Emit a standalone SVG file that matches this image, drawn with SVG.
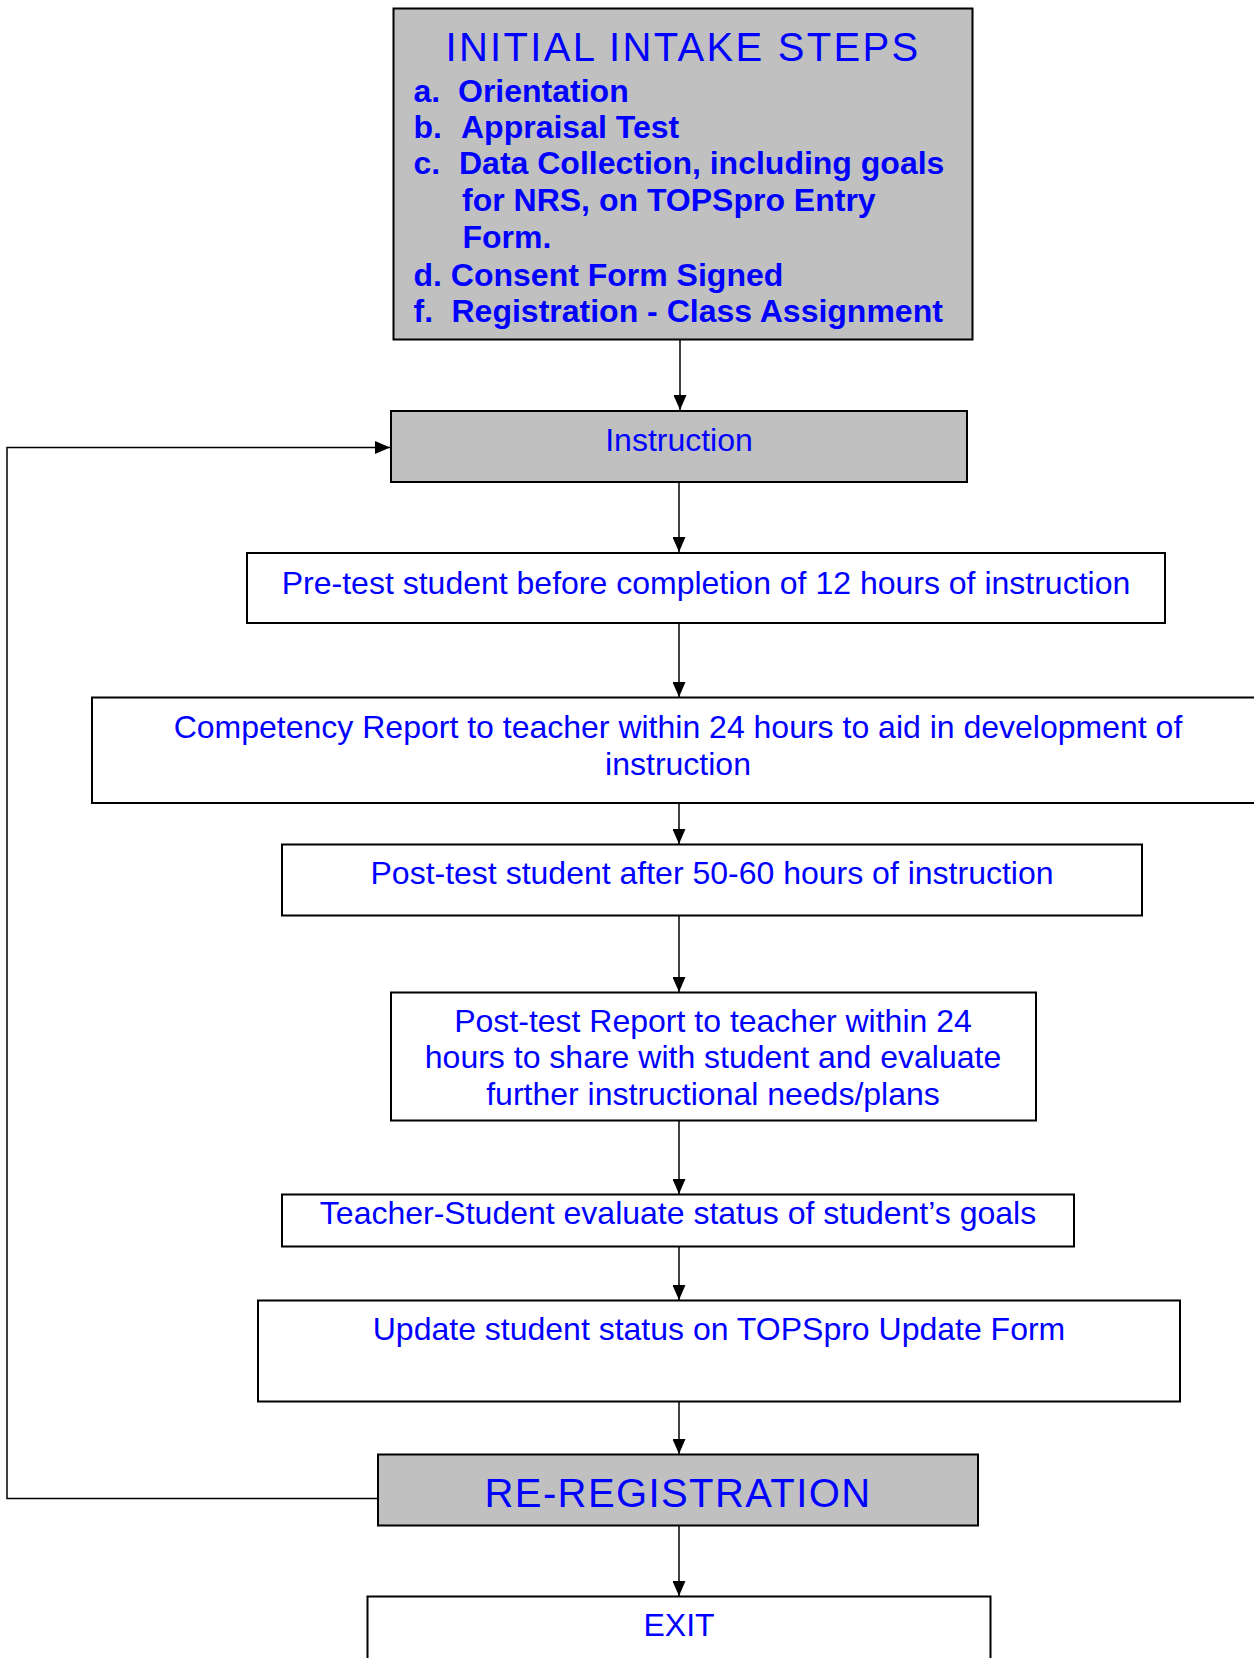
<svg xmlns="http://www.w3.org/2000/svg" width="1254" height="1658" viewBox="0 0 1254 1658">
<style>
  .box { stroke: #000; stroke-width: 2; fill: #fff; }
  .gray { fill: #c0c0c0; }
  .t { font-family: "Liberation Sans", Arial, sans-serif; fill: #0000ff; font-size: 32px; }
  .c { text-anchor: middle; }
  .b { font-weight: bold; font-size: 32px; }
  .big { font-size: 40px; }
  .conn { stroke: #000; stroke-width: 1.5; fill: none; }
</style>
<defs>
  <marker id="arr" viewBox="0 0 15 13" refX="15" refY="6.5" markerWidth="15" markerHeight="13" markerUnits="userSpaceOnUse" orient="auto">
    <path d="M0,0 L15,6.5 L0,13 z" fill="#000"/>
  </marker>
</defs>
<rect width="1254" height="1658" fill="#fff"/>

<g id="connectors">
  <line class="conn" x1="680" y1="340" x2="680" y2="410" marker-end="url(#arr)"/>
  <line class="conn" x1="679" y1="482" x2="679" y2="552" marker-end="url(#arr)"/>
  <line class="conn" x1="679" y1="623" x2="679" y2="697" marker-end="url(#arr)"/>
  <line class="conn" x1="679" y1="803" x2="679" y2="844" marker-end="url(#arr)"/>
  <line class="conn" x1="679" y1="916" x2="679" y2="992" marker-end="url(#arr)"/>
  <line class="conn" x1="679" y1="1121" x2="679" y2="1194" marker-end="url(#arr)"/>
  <line class="conn" x1="679" y1="1247" x2="679" y2="1300" marker-end="url(#arr)"/>
  <line class="conn" x1="679" y1="1402" x2="679" y2="1454" marker-end="url(#arr)"/>
  <line class="conn" x1="679" y1="1526" x2="679" y2="1596" marker-end="url(#arr)"/>
  <polyline class="conn" points="377,1498.5 7,1498.5 7,447.5 390,447.5" stroke-width="2" marker-end="url(#arr)"/>
</g>

<g id="initial-intake">
  <rect class="box gray" x="393.5" y="8.5" width="579" height="331"/>
  <text class="t big c" x="683" y="61" letter-spacing="2.3">INITIAL INTAKE STEPS</text>
  <text class="t b" x="413.5" y="101.7">a.</text>
  <text class="t b" x="458" y="101.7">Orientation</text>
  <text class="t b" x="413.5" y="137.7">b.</text>
  <text class="t b" x="461" y="137.7">Appraisal Test</text>
  <text class="t b" x="413.5" y="174.3">c.</text>
  <text class="t b" x="459" y="174.3">Data Collection, including goals</text>
  <text class="t b" x="462" y="211">for NRS, on TOPSpro Entry</text>
  <text class="t b" x="462.5" y="248.3">Form.</text>
  <text class="t b" x="413.5" y="285.7">d. Consent Form Signed</text>
  <text class="t b" x="413.5" y="321.7">f.</text>
  <text class="t b" x="451.5" y="321.7">Registration - Class Assignment</text>
</g>

<g id="instruction">
  <rect class="box gray" x="391" y="411" width="576" height="71"/>
  <text class="t c" x="679" y="451">Instruction</text>
</g>

<g id="pretest">
  <rect class="box" x="247" y="553" width="918" height="70"/>
  <text class="t c" x="706" y="593.5">Pre-test student before completion of 12 hours of instruction</text>
</g>

<g id="competency">
  <rect class="box" x="92" y="697.5" width="1175" height="105.5"/>
  <text class="t c" x="678" y="737.5">Competency Report to teacher within 24 hours to aid in development of</text>
  <text class="t c" x="678" y="775">instruction</text>
</g>

<g id="posttest">
  <rect class="box" x="282" y="844.5" width="860" height="71"/>
  <text class="t c" x="712" y="884">Post-test student after 50-60 hours of instruction</text>
</g>

<g id="posttest-report">
  <rect class="box" x="391" y="992.5" width="645" height="128"/>
  <text class="t c" x="713" y="1031.5">Post-test Report to teacher within 24</text>
  <text class="t c" x="713" y="1068">hours to share with student and evaluate</text>
  <text class="t c" x="713" y="1105">further instructional needs/plans</text>
</g>

<g id="teacher-student">
  <rect class="box" x="282" y="1194.5" width="792" height="52"/>
  <text class="t c" x="678" y="1224">Teacher-Student evaluate status of student’s goals</text>
</g>

<g id="update">
  <rect class="box" x="258" y="1300.5" width="922" height="101"/>
  <text class="t c" x="719" y="1340">Update student status on TOPSpro Update Form</text>
</g>

<g id="reregistration">
  <rect class="box gray" x="378" y="1454.5" width="600" height="71"/>
  <text class="t big c" x="678" y="1506.5" letter-spacing="1.4">RE-REGISTRATION</text>
</g>

<g id="exit">
  <rect class="box" x="367.5" y="1596.5" width="623" height="80"/>
  <text class="t c" x="679" y="1635.5">EXIT</text>
</g>
</svg>
